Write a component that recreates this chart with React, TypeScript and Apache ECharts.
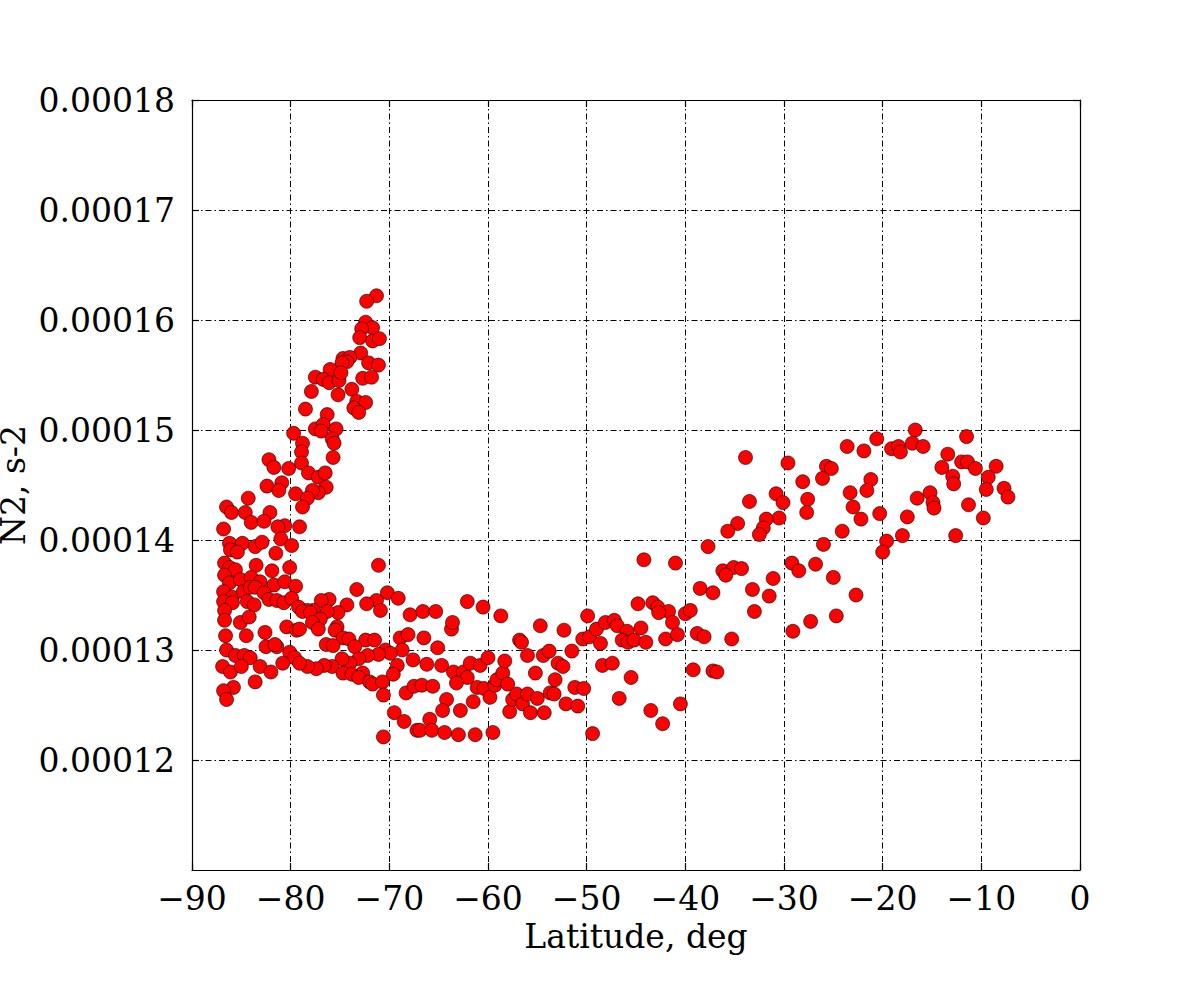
import React, { useEffect, useRef } from "react";
import * as echarts from "echarts";

// Upper arm of the polar cluster
const latArm = [
  -79.7, -82.2, -81.7, -80.2, -82.4, -80.9, -81.2, -79.5, -84.3,
  -71.3, -72.3, -72.4, -71.7, -72.8, -73.0, -71.7, -71.0, -72.9, -74.7,
  -74.0, -74.3, -74.8, -72.1, -71.1, -76.0, -77.5, -76.7, -76.1, -75.1,
  -74.9, -72.7, -71.8, -77.9, -75.2, -73.8, -73.3, -72.4, -73.6, -73.1,
  -78.5, -76.3, -77.5, -76.7, -76.9, -75.4, -75.8, -75.6, -75.7, -78.8,
  -78.9, -78.9, -78.2, -77.2, -76.5, -76.4, -77.2, -77.8, -78.3, -78.8,
  -79.1,
];
const n2Arm = [
  14.97e-5, 14.73e-5, 14.66e-5, 14.65e-5, 14.49e-5, 14.52e-5, 14.45e-5, 14.42e-5, 14.38e-5,
  16.22e-5, 16.17e-5, 15.98e-5, 15.93e-5, 15.92e-5, 15.84e-5, 15.81e-5, 15.83e-5, 15.70e-5, 15.65e-5,
  15.66e-5, 15.62e-5, 15.61e-5, 15.61e-5, 15.59e-5, 15.55e-5, 15.48e-5, 15.46e-5, 15.43e-5, 15.45e-5,
  15.52e-5, 15.47e-5, 15.48e-5, 15.35e-5, 15.32e-5, 15.37e-5, 15.26e-5, 15.25e-5, 15.20e-5, 15.16e-5,
  15.19e-5, 15.14e-5, 15.01e-5, 15.05e-5, 14.99e-5, 15.01e-5, 14.92e-5, 14.88e-5, 14.75e-5, 14.88e-5,
  14.80e-5, 14.70e-5, 14.61e-5, 14.57e-5, 14.61e-5, 14.48e-5, 14.43e-5, 14.45e-5, 14.38e-5, 14.30e-5,
  14.12e-5,
];

// Dense polar column
const latPolar = [
  -86.5, -86.0, -84.6, -84.0, -82.1, -82.7, -80.6, -81.3, -86.8, -86.2,
  -84.9, -86.1, -85.4, -83.6, -82.9, -81.0, -79.9, -81.5, -86.7, -86.2,
  -85.6, -83.5, -81.9, -80.1, -86.7, -86.2, -85.1, -84.0, -83.1, -81.7,
  -80.6, -79.5, -86.8, -85.9, -84.8, -84.1, -83.6, -82.7, -82.2, -81.4,
  -80.7, -79.9, -86.8, -85.9, -84.4, -83.7, -86.7, -79.2, -86.7, -85.1,
  -84.2, -80.4, -79.4, -86.6, -84.5, -82.6, -82.5, -81.4, -81.6, -80.1,
  -86.5, -85.6, -84.7, -84.1, -79.6, -86.9, -86.1, -85.0, -83.1, -82.0,
  -80.8, -83.6, -85.8, -86.8, -86.5,
];
const n2Polar = [
  14.30e-5, 14.25e-5, 14.25e-5, 14.16e-5, 14.25e-5, 14.17e-5, 14.13e-5, 14.12e-5, 14.10e-5, 13.97e-5,
  13.97e-5, 13.91e-5, 13.89e-5, 13.94e-5, 13.98e-5, 14.01e-5, 13.95e-5, 13.88e-5, 13.79e-5, 13.75e-5,
  13.73e-5, 13.77e-5, 13.72e-5, 13.75e-5, 13.68e-5, 13.61e-5, 13.64e-5, 13.66e-5, 13.62e-5, 13.59e-5,
  13.62e-5, 13.58e-5, 13.53e-5, 13.48e-5, 13.53e-5, 13.57e-5, 13.57e-5, 13.52e-5, 13.46e-5, 13.45e-5,
  13.43e-5, 13.47e-5, 13.44e-5, 13.43e-5, 13.44e-5, 13.41e-5, 13.36e-5, 13.39e-5, 13.27e-5, 13.25e-5,
  13.30e-5, 13.21e-5, 13.18e-5, 13.13e-5, 13.13e-5, 13.16e-5, 13.03e-5, 13.03e-5, 13.05e-5, 12.98e-5,
  13.00e-5, 12.95e-5, 12.95e-5, 12.93e-5, 12.93e-5, 12.85e-5, 12.80e-5, 12.85e-5, 12.85e-5, 12.80e-5,
  12.88e-5, 12.71e-5, 12.66e-5, 12.63e-5, 12.55e-5,
];

// Band between -80 and -67
const latShelf = [
  -71.1, -73.3, -70.2, -69.1, -71.3, -72.3, -70.9, -67.9, -76.1, -76.9,
  -74.3, -75.2, -76.3, -77.7, -78.3, -78.8, -78.0, -77.0, -77.8, -77.2,
  -79.1, -75.3, -75.5, -74.7, -74.1, -72.4, -71.5, -73.5, -76.4, -75.7,
  -68.9, -68.1, -68.7, -70.4, -69.9, -71.1, -72.2, -73.1, -74.0, -74.8,
  -75.8, -76.6, -77.4, -78.3, -79.1, -74.7, -73.8, -72.7, -73.1, -72.0,
  -71.7, -70.7, -70.6, -69.2, -69.6, -67.6, -68.3, -67.5, -69.5, -68.5,
  -67.2, -70.6,
];
const n2Shelf = [
  13.77e-5, 13.55e-5, 13.52e-5, 13.47e-5, 13.45e-5, 13.42e-5, 13.36e-5, 13.32e-5, 13.46e-5, 13.45e-5,
  13.41e-5, 13.34e-5, 13.35e-5, 13.36e-5, 13.36e-5, 13.35e-5, 13.34e-5, 13.28e-5, 13.25e-5, 13.19e-5,
  13.19e-5, 13.21e-5, 13.18e-5, 13.11e-5, 13.10e-5, 13.09e-5, 13.09e-5, 13.03e-5, 13.05e-5, 13.04e-5,
  13.11e-5, 13.14e-5, 13.00e-5, 13.00e-5, 12.97e-5, 12.96e-5, 12.95e-5, 12.92e-5, 12.88e-5, 12.92e-5,
  12.85e-5, 12.86e-5, 12.83e-5, 12.85e-5, 12.88e-5, 12.79e-5, 12.78e-5, 12.79e-5, 12.75e-5, 12.71e-5,
  12.69e-5, 12.71e-5, 12.59e-5, 12.86e-5, 12.78e-5, 12.91e-5, 12.61e-5, 12.67e-5, 12.43e-5, 12.35e-5,
  12.27e-5, 12.21e-5,
];

// Mid latitudes -67 to -48
const latMid = [
  -66.6, -65.3, -62.1, -60.5, -58.7, -63.7, -63.6, -66.5, -65.1, -66.2,
  -64.7, -63.5, -62.5, -61.8, -60.8, -60.0, -62.1, -63.2, -66.7, -65.6,
  -64.2, -64.6, -62.8, -61.5, -61.1, -60.4, -59.8, -59.3, -59.1, -58.5,
  -58.3, -58.0, -65.9, -66.9, -65.7, -64.4, -63.0, -61.3, -59.5, -57.8,
  -57.5, -57.1, -56.5, -55.7, -56.0, -55.0, -54.3, -56.8, -56.6, -56.0,
  -55.2, -54.7, -54.4, -53.8, -53.2, -53.7, -53.3, -52.9, -52.4, -52.3,
  -52.1, -50.9, -51.2, -50.3, -51.5, -50.4, -49.9, -49.4, -49.7, -49.0,
  -48.6, -48.4, -48.1,
];
const n2Mid = [
  13.35e-5, 13.35e-5, 13.44e-5, 13.39e-5, 13.31e-5, 13.19e-5, 13.25e-5, 13.11e-5, 13.02e-5, 12.87e-5,
  12.86e-5, 12.80e-5, 12.80e-5, 12.88e-5, 12.86e-5, 12.93e-5, 12.75e-5, 12.70e-5, 12.68e-5, 12.67e-5,
  12.55e-5, 12.45e-5, 12.45e-5, 12.53e-5, 12.66e-5, 12.65e-5, 12.57e-5, 12.68e-5, 12.73e-5, 12.79e-5,
  12.90e-5, 12.69e-5, 12.37e-5, 12.27e-5, 12.27e-5, 12.25e-5, 12.23e-5, 12.23e-5, 12.25e-5, 12.44e-5,
  12.55e-5, 12.60e-5, 12.51e-5, 12.43e-5, 12.60e-5, 12.56e-5, 12.43e-5, 13.09e-5, 13.07e-5, 12.95e-5,
  12.79e-5, 13.22e-5, 12.95e-5, 12.99e-5, 12.73e-5, 12.61e-5, 12.60e-5, 12.88e-5, 12.85e-5, 13.18e-5,
  12.51e-5, 12.49e-5, 12.66e-5, 12.65e-5, 12.99e-5, 13.10e-5, 13.31e-5, 12.24e-5, 13.12e-5, 13.19e-5,
  13.06e-5, 12.86e-5, 13.25e-5,
];

// Subtropical -48 to -26
const latSub = [
  -33.9, -29.6, -28.1, -27.6, -27.7, -30.8, -30.1, -33.5, -30.5, -31.8,
  -32.1, -32.5, -34.7, -35.7, -37.7, -44.2, -41.0, -36.2, -35.1, -34.3,
  -35.9, -29.2, -28.5, -26.8, -38.5, -37.2, -33.2, -31.1, -31.5, -33.0,
  -44.8, -43.3, -42.8, -41.7, -42.7, -40.0, -39.5, -41.3, -47.2, -46.9,
  -45.9, -44.5, -46.4, -45.8, -45.2, -44.0, -42.0, -40.8, -38.8, -38.1,
  -35.3, -29.1, -27.3, -47.4, -45.5, -46.7, -43.5, -42.3, -40.5, -39.2,
  -37.2, -36.8,
];
const n2Sub = [
  14.75e-5, 14.70e-5, 14.53e-5, 14.37e-5, 14.25e-5, 14.42e-5, 14.34e-5, 14.35e-5, 14.20e-5, 14.19e-5,
  14.11e-5, 14.05e-5, 14.15e-5, 14.08e-5, 13.94e-5, 13.82e-5, 13.79e-5, 13.72e-5, 13.75e-5, 13.74e-5,
  13.68e-5, 13.79e-5, 13.72e-5, 13.78e-5, 13.56e-5, 13.52e-5, 13.55e-5, 13.65e-5, 13.49e-5, 13.35e-5,
  13.42e-5, 13.43e-5, 13.39e-5, 13.35e-5, 13.34e-5, 13.33e-5, 13.36e-5, 13.25e-5, 13.27e-5, 13.22e-5,
  13.17e-5, 13.20e-5, 13.09e-5, 13.07e-5, 13.09e-5, 13.07e-5, 13.10e-5, 13.14e-5, 13.15e-5, 13.12e-5,
  13.10e-5, 13.17e-5, 13.26e-5, 12.88e-5, 12.75e-5, 12.56e-5, 12.45e-5, 12.33e-5, 12.51e-5, 12.82e-5,
  12.81e-5, 12.80e-5,
];

// Tropical -26 to -7
const latTrop = [
  -16.7, -11.5, -20.6, -23.6, -21.9, -19.1, -18.4, -18.2, -17.0, -15.9,
  -13.4, -14.0, -12.0, -11.4, -10.6, -8.5, -12.9, -12.8, -9.3, -9.5,
  -7.7, -7.3, -11.3, -9.8, -25.7, -25.2, -26.1, -21.2, -21.6, -23.3,
  -23.0, -22.2, -20.3, -16.5, -15.2, -14.9, -14.8, -17.5, -24.1, -18.0,
  -12.6, -19.6, -20.0, -26.0, -25.0, -22.7, -24.7,
];
const n2Trop = [
  15.00e-5, 14.94e-5, 14.92e-5, 14.85e-5, 14.81e-5, 14.83e-5, 14.85e-5, 14.80e-5, 14.88e-5, 14.85e-5,
  14.78e-5, 14.66e-5, 14.71e-5, 14.71e-5, 14.65e-5, 14.67e-5, 14.58e-5, 14.51e-5, 14.57e-5, 14.46e-5,
  14.47e-5, 14.39e-5, 14.32e-5, 14.20e-5, 14.67e-5, 14.65e-5, 14.56e-5, 14.55e-5, 14.45e-5, 14.43e-5,
  14.30e-5, 14.19e-5, 14.24e-5, 14.38e-5, 14.43e-5, 14.34e-5, 14.29e-5, 14.21e-5, 14.08e-5, 14.04e-5,
  14.04e-5, 13.99e-5, 13.89e-5, 13.96e-5, 13.66e-5, 13.50e-5, 13.31e-5,
];

const X_MIN = -90;
const X_MAX = 0;
const X_STEP = 10;
const Y_MIN = 0.00011;
const Y_MAX = 0.00018;
const Y_STEP = 0.00001;

const FONT = "DejaVu Serif";
const DASH = [6, 3, 1.5, 3];

export default function App() {
  const ref = useRef<HTMLDivElement>(null);

  useEffect(() => {
    if (!ref.current) return;
    const chart = echarts.init(ref.current, null, { renderer: "svg" });
    const groups: [number[], number[]][] = [
      [latArm, n2Arm],
      [latPolar, n2Polar],
      [latShelf, n2Shelf],
      [latMid, n2Mid],
      [latSub, n2Sub],
      [latTrop, n2Trop],
    ];
    const data: number[][] = [];
    for (const [la, nn] of groups) {
      for (let i = 0; i < la.length; i++) data.push([la[i], nn[i]]);
    }

    const labelStyle = { fontFamily: FONT, fontSize: 33, color: "#000" };
    const tick = { show: true, inside: true, length: 7, lineStyle: { color: "#000", width: 1.2 } };
    const line = { show: true, onZero: false, lineStyle: { color: "#000", width: 1.2 } };
    const split = { show: true, lineStyle: { color: "#000", width: 1, type: DASH } };

    chart.setOption({
      animation: false,
      backgroundColor: "#fff",
      grid: {
        left: 192,
        right: 120,
        top: 100,
        bottom: 130,
        show: false,
        containLabel: false,
        outerBoundsMode: "none",
      },
      xAxis: [
        {
          type: "value",
          min: X_MIN,
          max: X_MAX,
          interval: X_STEP,
          position: "bottom",
          name: "Latitude, deg",
          nameLocation: "middle",
          nameGap: 50,
          nameMoveOverlap: false,
          nameTextStyle: { ...labelStyle },
          axisLine: line,
          axisTick: tick,
          splitLine: split,
          axisLabel: {
            ...labelStyle,
            margin: 12,
            formatter: (v: number) => String(v).replace("-", "\u2212"),
          },
        },
        {
          type: "value",
          min: X_MIN,
          max: X_MAX,
          interval: X_STEP,
          position: "top",
          axisLine: line,
          axisTick: tick,
          splitLine: { show: false },
          axisLabel: { show: false },
        },
      ],
      yAxis: [
        {
          type: "value",
          min: Y_MIN,
          max: Y_MAX,
          interval: Y_STEP,
          position: "left",
          name: "N2, s-2",
          nameLocation: "middle",
          nameGap: 162,
          nameRotate: 90,
          nameMoveOverlap: false,
          nameTextStyle: { ...labelStyle },
          axisLine: line,
          axisTick: tick,
          splitLine: split,
          axisLabel: {
            ...labelStyle,
            margin: 17,
            showMinLabel: false,
            formatter: (v: number) => v.toFixed(5),
          },
        },
        {
          type: "value",
          min: Y_MIN,
          max: Y_MAX,
          interval: Y_STEP,
          position: "right",
          axisLine: line,
          axisTick: tick,
          splitLine: { show: false },
          axisLabel: { show: false },
        },
      ],
      series: [
        {
          type: "scatter",
          xAxisIndex: 0,
          yAxisIndex: 0,
          data,
          symbol: "circle",
          symbolSize: 14,
          itemStyle: { color: "#ff0000", borderColor: "#000", borderWidth: 0.6, opacity: 1 },
          emphasis: { disabled: true },
        },
      ],
    });

    return () => chart.dispose();
  }, []);

  return (
    <div
      ref={ref}
      style={{ position: "absolute", left: 0, top: 0, width: 1200, height: 1000 }}
    />
  );
}
